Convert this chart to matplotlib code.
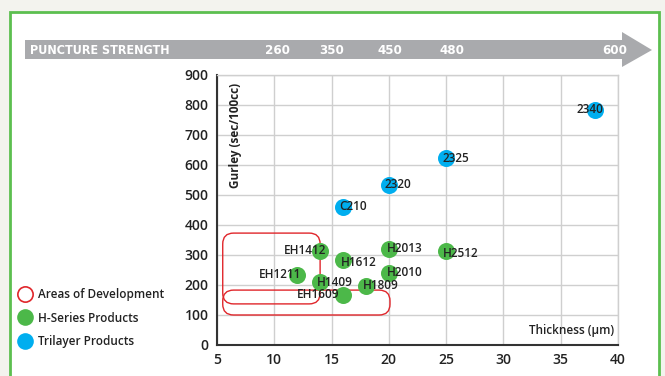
import matplotlib
matplotlib.use("Agg")
import matplotlib.pyplot as plt
from matplotlib.patches import FancyBboxPatch, Polygon, Rectangle
from matplotlib.lines import Line2D
from matplotlib.transforms import blended_transform_factory

plt.rcParams['font.family'] = ['Open Sans', 'DejaVu Sans']

# Data
tri_names = ["2340", "2325", "2320", "C210"]
tri_x = [38, 25, 20, 16]
tri_y = [785, 622, 535, 460]

h_names = ["EH1412", "H1612", "EH1211", "H1409", "EH1609", "H1809", "H2013", "H2010", "H2512"]
h_x = [14, 16, 12, 14, 16, 18, 20, 20, 25]
h_y = [315, 282, 235, 210, 168, 198, 320, 240, 313]

# areas of development: (x0, x1, y0, y1)
dev_areas = [(5.5, 14.0, 137, 373), (5.5, 20.1, 100, 183)]

puncture = ["260", "350", "450", "480", "600"]
puncture_x = [10.3, 15.0, 20.1, 25.5, 39.7]

# label offsets in px (dx, dy, ha)
tri_off = [(8, 0, "right"), (-4, 0, "left"), (-4, 0, "left"), (-4, 0, "left")]
h_off = [(6, 0, "right"), (-2, -2, "left"), (4, 0, "right"), (-3, 0, "left"),
         (-4, 0, "right"), (-3, 0, "left"), (-2, 0, "left"), (-2, 0, "left"),
         (-3, -2, "left")]

W, H = 665, 376
fig = plt.figure(figsize=(W / 100, H / 100), dpi=100)
fig.patch.set_facecolor("#f3f3ee")


def px(x, y):
    return (x / W, 1 - y / H)


# white panel with green border
panel = Rectangle(px(10, 400), 649 / W, 388 / H, transform=fig.transFigure,
                  facecolor="white", edgecolor="#5cbf4f", linewidth=2, zorder=-3)
fig.add_artist(panel)

# puncture strength arrow
arrow = Polygon([px(25, 40), px(622, 40), px(622, 32), px(652, 50),
                 px(622, 67), px(622, 59), px(25, 59)],
                closed=True, transform=fig.transFigure,
                facecolor="#a9aaad", edgecolor="none", zorder=-2)
fig.add_artist(arrow)
fig.text(30 / W, 1 - 50 / H, "PUNCTURE STRENGTH", color="white", fontsize=9,
         fontweight="bold", va="center", ha="left", fontstretch="condensed",
         family=["DejaVu Sans"], zorder=-1)

ax = fig.add_axes([217 / W, 31 / H, 401 / W, 270 / H])
ax.set_facecolor("none")
ax.set_xlim(5, 40)
ax.set_ylim(0, 900)
ax.set_xticks(range(5, 41, 5))
ax.set_yticks(range(0, 901, 100))
ax.grid(True, color="#cfcfcf", linewidth=1)
ax.set_axisbelow(True)
for s in ["top", "right"]:
    ax.spines[s].set_color("#cfcfcf")
    ax.spines[s].set_linewidth(1)
for s in ["left", "bottom"]:
    ax.spines[s].set_color("#333333")
    ax.spines[s].set_linewidth(1.5)
ax.tick_params(length=0, labelsize=10, colors="#222222", pad=6)
for lab in ax.get_xticklabels() + ax.get_yticklabels():
    lab.set_fontweight("semibold")

bt = blended_transform_factory(ax.transData, fig.transFigure)
for lab, xp in zip(puncture, puncture_x):
    ax.text(xp, 1 - 50 / H, lab, transform=bt, color="white", fontsize=9.5,
            fontweight="bold", ha="center", va="center", clip_on=False,
            fontstretch="condensed", family=["DejaVu Sans"])

# development areas
asp = 38.2
for x0, x1, y0, y1 in dev_areas:
    box = FancyBboxPatch((x0, y0), x1 - x0, y1 - y0,
                         boxstyle="round,pad=0,rounding_size=0.95",
                         mutation_aspect=asp, facecolor="none",
                         edgecolor="#e0262b", linewidth=1, zorder=2)
    ax.add_patch(box)

ax.scatter(h_x, h_y, s=150, color="#4cb849", zorder=3, linewidths=0)
ax.scatter(tri_x, tri_y, s=150, color="#00aeef", zorder=3, linewidths=0)

for names, xs, ys, offs in [(tri_names, tri_x, tri_y, tri_off),
                            (h_names, h_x, h_y, h_off)]:
    for n, x, y, (dx, dy, ha) in zip(names, xs, ys, offs):
        ax.annotate(n, (x, y), xytext=(dx * 0.72, dy * 0.72),
                    textcoords="offset points", ha=ha, va="center",
                    fontsize=8.5, fontweight="semibold", color="#222222", zorder=4)

ax.text(0.03, 0.97, "Gurley (sec/100cc)", transform=ax.transAxes, rotation=90,
        ha="left", va="top", fontsize=8.5, fontweight="bold", color="#222222")
ax.text(0.99, 0.03, "Thickness (\u00b5m)", transform=ax.transAxes,
        ha="right", va="bottom", fontsize=8.5, fontweight="semibold", color="#222222")

handles = [
    Line2D([], [], marker="o", linestyle="none", markersize=11,
           markerfacecolor="white", markeredgecolor="#e0262b", markeredgewidth=1.2),
    Line2D([], [], marker="o", linestyle="none", markersize=12,
           markerfacecolor="#4cb849", markeredgecolor="none"),
    Line2D([], [], marker="o", linestyle="none", markersize=12,
           markerfacecolor="#00aeef", markeredgecolor="none"),
]
labels = ["Areas of Development", "H-Series Products", "Trilayer Products"]
leg = fig.legend(handles, labels, loc="upper left", bbox_to_anchor=px(13, 283),
                 frameon=False, fontsize=8.5, labelspacing=0.92, handletextpad=0.55,
                 handlelength=1.2, borderaxespad=0)
for t in leg.get_texts():
    t.set_fontweight("semibold")
    t.set_color("#222222")

fig.savefig("out.png", dpi=100, facecolor=fig.get_facecolor())
